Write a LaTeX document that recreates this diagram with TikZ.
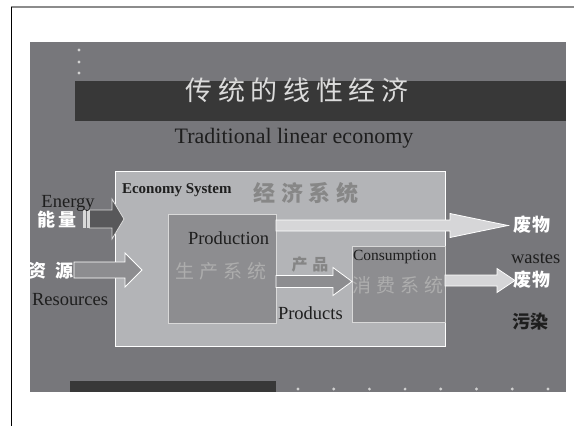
\documentclass[tikz,border=0pt]{standalone}
\usepackage{fontspec}
\setmainfont{Liberation Serif}
\newfontfamily\cjkT[LetterSpace=21]{Noto Sans CJK SC}
\newfontfamily\cjkE[LetterSpace=26]{Noto Sans CJK SC}
\newfontfamily\cjkS[LetterSpace=25]{Noto Sans CJK SC}
\newfontfamily\cjkN[LetterSpace=20]{Noto Sans CJK SC}
\newfontfamily\cjkR[LetterSpace=50]{Noto Sans CJK SC}
\newfontfamily\cjkW[LetterSpace=10]{Noto Sans CJK SC}
\newfontfamily\cjkP[LetterSpace=30]{Noto Sans CJK SC}
\newfontfamily\cjkZ{Noto Sans CJK SC}
\definecolor{panel}{HTML}{77777B}
\definecolor{barc}{HTML}{383838}
\definecolor{eco}{HTML}{B3B4B7}
\definecolor{sub}{HTML}{8D8D90}
\definecolor{lite}{HTML}{D6D6D8}
\definecolor{darkarrow}{HTML}{58585A}
\definecolor{ink}{HTML}{1E1E1E}
\newcommand{\barrow}[7]{% style, x start, x tip, y centre, shaft half, head half, head length
  \draw[#1] ({#2},{#4-#5}) -- ({#3-#7},{#4-#5}) -- ({#3-#7},{#4-#6}) -- ({#3},{#4})
    -- ({#3-#7},{#4+#6}) -- ({#3-#7},{#4+#5}) -- ({#2},{#4+#5}) -- cycle;}
\begin{document}
\begin{tikzpicture}[x=1pt,y=-1pt,
  txt/.style={inner sep=0pt, outer sep=0pt},
  ecobox/.style={draw=white, line width=0.9pt, fill=eco, inner sep=0pt},
  subbox/.style={draw=white!85!black, line width=0.9pt, fill=sub, inner sep=0pt},
  dotc/.style={fill=white!82!black}]
\useasboundingbox (0,0) rectangle (574,426);
\fill[white] (0,0) rectangle (574,426);
\draw[color=black!45, line width=1.5pt] (11,7) -- (574,7);
\draw[black, line width=1pt] (11,7) -- (11,426);
% slide background
\fill[panel] (30,42) rectangle (566,392);
\fill[barc] (75,81) rectangle (566,121);
\fill[barc] (70,381) rectangle (276,392);
\foreach \yy in {50,62,73} \fill[dotc] (79,\yy) circle (1.6pt);
\foreach \xx in {298,333.7,369.4,405.1,440.8,476.5,512.2,548} \fill[dotc] (\xx,389) circle (1.6pt);
% title
\node[txt, text=white!86!black, font=\cjkT\fontsize{27}{30}\selectfont] (title) at (297,90) {传统的线性经济};
\node[txt, anchor=base, text=ink, font=\fontsize{22}{24}\selectfont] (sub) at (294,143) {Traditional linear economy};
% boxes
\node[ecobox, minimum width=330pt, minimum height=175pt] (eco) at (280,258.5) {};
\node[subbox, minimum width=108pt, minimum height=109pt] (prod) at (222,268.5) {};
\node[subbox, minimum width=93pt, minimum height=76pt] (cons) at (398.5,284) {};
% arrows
\fill[white!85!black] (83,210) rectangle (85.6,228);
\fill[white!85!black] (86.6,210) rectangle (88.6,228);
\barrow{draw=white!85!black, line width=0.8pt, fill=darkarrow}{89.5}{124}{219}{9}{20}{12}
\barrow{draw=white, line width=0.8pt, fill=sub}{74}{142}{270}{8}{17}{17}
\barrow{draw=white, line width=0.8pt, fill=lite}{276}{508}{225.5}{5.5}{12}{58}
\barrow{draw=white, line width=0.8pt, fill=sub}{276}{352}{281.5}{6}{14}{19}
\barrow{draw=white, line width=0.8pt, fill=lite}{445}{515}{280.5}{5.5}{12}{18}
% texts
\node[txt, anchor=base west, text=ink, font=\bfseries\fontsize{15}{17}\selectfont] (ecolab) at (122,193) {Economy System};
\node[txt, text=black!47, font=\cjkE\bfseries\fontsize{22}{24}\selectfont] (ecocn) at (306,193) {经济系统};
\node[txt, anchor=base west, text=ink, font=\fontsize{18.5}{20}\selectfont] (energy) at (41.5,207) {Energy};
\node[txt, text=white, font=\cjkN\bfseries\fontsize{18}{20}\selectfont] (energycn) at (57,220) {能量};
\node[txt, text=white, font=\cjkR\bfseries\fontsize{18}{20}\selectfont] (rescn) at (51,271) {资源};
\node[txt, anchor=base west, text=ink, font=\fontsize{18.5}{20}\selectfont] (res) at (32,305) {Resources};
\node[txt, anchor=base west, text=ink, font=\fontsize{18.5}{20}\selectfont] (prodlab) at (188,244) {Production};
\node[txt, text=white!68!black, font=\cjkS\fontsize{19}{21}\selectfont] (prodcn) at (221,271) {生产系统};
\node[txt, text=black!48, font=\cjkP\bfseries\fontsize{16}{18}\selectfont] (prodt) at (310,264) {产品};
\node[txt, anchor=base west, text=ink, font=\fontsize{18.5}{20}\selectfont] (products) at (278,319) {Products};
\node[txt, anchor=base west, text=ink, font=\fontsize{15.5}{17}\selectfont] (conslab) at (353,260) {Consumption};
\node[txt, text=white!68!black, font=\cjkS\fontsize{19}{21}\selectfont] (conscn) at (398,285) {消费系统};
\node[txt, text=white, font=\cjkW\bfseries\fontsize{18}{20}\selectfont] (waste1) at (532,225) {废物};
\node[txt, anchor=base west, text=ink, font=\fontsize{18.5}{20}\selectfont] (wastes) at (511,263) {wastes};
\node[txt, text=white, font=\cjkW\bfseries\fontsize{18}{20}\selectfont] (waste2) at (532,280) {废物};
\node[txt, text=ink, font=\cjkZ\bfseries\fontsize{18}{20}\selectfont] (pollution) at (530,322) {污染};
\end{tikzpicture}
\end{document}
